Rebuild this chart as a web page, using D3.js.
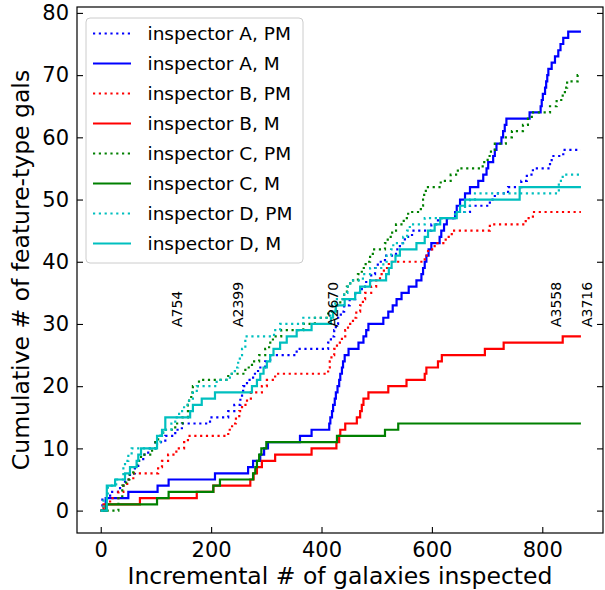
<!DOCTYPE html>
<html>
<head>
<meta charset="utf-8">
<script src="https://cdn.jsdelivr.net/npm/d3@7/dist/d3.min.js"></script>
<style>
  html, body { margin: 0; padding: 0; background: #fff; }
  svg { display: block; font-family: "DejaVu Sans", sans-serif; }
</style>
</head>
<body>
<svg id="chart" width="605" height="590"></svg>
<script>
// Cumulative count of feature-type galaxies versus number of galaxies inspected.
// Each series: [galaxies inspected, cumulative count] at every step change.
const inspA_PM = [[0,0],[3,2],[17,3],[35,4],[44,5],[53,6],[62,7],[68,8],[77,9],[86,10],[99,11],[117,12],[135,13],[147,14],[198,15],[231,16],[242,17],[253,18],[256,19],[258,20],[265,21],[276,22],[285,23],[298,24],[307,25],[355,26],[412,27],[417,28],[423,29],[426,30],[430,31],[435,32],[441,33],[451,34],[461,35],[473,36],[481,37],[490,38],[497,39],[502,40],[515,41],[535,42],[542,43],[551,44],[564,45],[599,46],[611,47],[642,48],[669,49],[705,50],[714,51],[738,52],[762,53],[772,54],[783,55],[814,56],[817,57],[838,58]];
const inspA_M = [[0,0],[9,2],[50,3],[103,4],[123,5],[207,6],[267,7],[276,8],[289,9],[296,10],[303,11],[361,12],[382,13],[414,14],[416,15],[419,16],[421,17],[424,18],[426,19],[429,20],[432,21],[434,22],[437,23],[439,24],[442,25],[449,26],[467,27],[476,28],[481,29],[485,30],[512,31],[521,32],[529,33],[536,34],[545,35],[558,36],[572,37],[581,38],[584,39],[587,40],[590,41],[594,42],[599,43],[614,44],[617,45],[622,46],[627,47],[642,48],[645,49],[651,50],[660,51],[669,52],[684,53],[693,54],[699,55],[702,56],[711,57],[714,58],[717,59],[726,60],[729,61],[732,62],[735,63],[777,64],[797,65],[799,66],[801,67],[805,68],[807,69],[809,70],[811,71],[817,72],[823,73],[829,74],[833,75],[838,76],[847,77]];
const inspB_PM = [[0,0],[5,1],[17,2],[32,3],[41,4],[48,5],[59,6],[104,7],[111,8],[122,9],[137,10],[151,11],[158,12],[231,13],[238,14],[245,15],[251,16],[256,17],[265,18],[272,19],[292,20],[301,21],[316,22],[412,23],[415,24],[418,25],[423,26],[428,27],[437,28],[443,29],[448,30],[457,31],[463,32],[470,33],[475,34],[479,35],[490,36],[499,37],[506,38],[513,39],[522,40],[587,41],[593,42],[605,43],[625,44],[636,45],[705,46],[770,47],[783,48]];
const inspB_M = [[0,0],[5,1],[71,2],[174,3],[204,4],[271,5],[277,6],[283,7],[292,8],[316,9],[382,10],[427,11],[432,12],[434,13],[443,14],[464,15],[470,16],[473,17],[476,18],[485,19],[521,20],[554,21],[587,22],[590,23],[611,24],[618,25],[696,26],[730,27],[837,28]];
const inspC_PM = [[0,0],[32,2],[39,4],[46,5],[52,6],[59,7],[66,8],[73,9],[93,10],[99,11],[104,12],[113,13],[135,14],[148,15],[158,17],[160,18],[164,19],[167,20],[178,21],[231,22],[262,23],[274,24],[287,25],[298,26],[305,27],[312,28],[327,29],[367,30],[388,31],[412,32],[426,33],[434,34],[441,35],[446,36],[452,37],[466,38],[473,39],[480,40],[488,41],[493,42],[515,43],[520,44],[528,45],[535,46],[549,47],[557,48],[580,49],[584,50],[586,51],[589,52],[616,53],[634,54],[647,55],[692,56],[701,57],[707,58],[714,59],[734,60],[745,61],[765,62],[774,63],[781,64],[814,65],[826,66],[837,67],[841,68],[845,69],[864,70]];
const inspC_M = [[0,0],[10,1],[102,2],[123,3],[204,4],[216,5],[276,6],[280,7],[283,8],[287,9],[291,10],[300,11],[428,12],[515,13],[539,14]];
const inspD_PM = [[0,0],[5,2],[13,4],[28,5],[41,7],[44,8],[50,9],[56,10],[102,11],[108,12],[113,13],[128,14],[135,15],[142,16],[151,17],[160,18],[167,19],[174,20],[210,21],[234,22],[243,23],[249,24],[252,25],[256,26],[262,28],[314,29],[325,30],[367,31],[416,32],[419,33],[425,34],[441,35],[447,36],[452,37],[475,38],[488,39],[512,40],[518,41],[526,42],[530,43],[548,44],[555,45],[560,46],[587,47],[642,48],[660,49],[669,50],[678,51],[830,53],[837,54]];
const inspD_M = [[0,0],[11,4],[26,5],[44,6],[53,7],[65,8],[68,9],[73,10],[102,12],[111,13],[117,15],[162,16],[167,17],[183,18],[207,19],[274,20],[283,21],[289,22],[295,23],[301,24],[307,25],[313,26],[325,27],[337,28],[355,29],[382,30],[417,31],[421,32],[426,33],[442,34],[461,35],[470,36],[488,37],[517,38],[522,39],[527,40],[534,41],[542,42],[572,43],[587,44],[593,45],[605,46],[615,47],[645,48],[651,49],[660,50],[759,52]];

const totalInspected = 870;

const seriesNames = ["inspector A, PM", "inspector A, M", "inspector B, PM", "inspector B, M",
                     "inspector C, PM", "inspector C, M", "inspector D, PM", "inspector D, M"];
const seriesData = [inspA_PM, inspA_M, inspB_PM, inspB_M, inspC_PM, inspC_M, inspD_PM, inspD_M];
const seriesColors = ["#0000ff", "#0000ff", "#ff0000", "#ff0000", "#008000", "#008000", "#00bfbf", "#00bfbf"];
const seriesDotted = [true, false, true, false, true, false, true, false];

// Cluster boundaries along the inspection sequence
const clusterNames = ["A754", "A2399", "A2670", "A3558", "A3716"];
const clusterStart = [124, 235, 407, 810, 866];
const clusterLabelLevel = 29.5;

const xTicks = [0, 200, 400, 600, 800];
const yTicks = [0, 10, 20, 30, 40, 50, 60, 70, 80];

const svg = d3.select("#chart");
const plotL = 77, plotR = 603, plotT = 7, plotB = 533;

const x = d3.scaleLinear().domain([-43, 910]).range([plotL, plotR]);
const y = d3.scaleLinear().domain([-3.6, 80.95]).range([plotB, plotT]);

const tickFont = 21;
const labelFont = 23.5;

// Axes with inward ticks
const gLeft = svg.append("g").attr("transform", `translate(${plotL},0)`)
  .call(d3.axisLeft(y).tickValues(yTicks).tickSize(-6).tickPadding(8).tickFormat(d3.format("d")));
const gRight = svg.append("g").attr("transform", `translate(${plotR},0)`)
  .call(d3.axisRight(y).tickValues(yTicks).tickSize(-6).tickFormat(""));
const gBottom = svg.append("g").attr("transform", `translate(0,${plotB})`)
  .call(d3.axisBottom(x).tickValues(xTicks).tickSize(-6).tickPadding(9).tickFormat(d3.format("d")));

[gLeft, gRight, gBottom].forEach(g => {
  g.select(".domain").remove();
  g.selectAll(".tick line").attr("stroke", "#000").attr("stroke-width", 1.1);
  g.selectAll("text").attr("font-size", tickFont).attr("font-family", "DejaVu Sans").attr("fill", "#000");
});

// Frame
svg.append("rect")
  .attr("x", plotL).attr("y", plotT).attr("width", plotR - plotL).attr("height", plotB - plotT)
  .attr("fill", "none").attr("stroke", "#000").attr("stroke-width", 1.2);

// Step lines
const line = d3.line()
  .x(d => x(d[0]))
  .y(d => y(d[1]))
  .curve(d3.curveStepAfter);

seriesData.forEach((data, i) => {
  const pts = data.concat([[totalInspected, data[data.length - 1][1]]]);
  svg.append("path")
    .datum(pts)
    .attr("d", line)
    .attr("fill", "none")
    .attr("stroke", seriesColors[i])
    .attr("stroke-width", 2.2)
    .attr("stroke-dasharray", seriesDotted[i] ? "2.2,3.6" : null);
});

// Cluster labels
clusterNames.forEach((name, i) => {
  const px = x(clusterStart[i]), py = y(clusterLabelLevel);
  svg.append("text")
    .attr("transform", `translate(${px},${py}) rotate(-90)`)
    .attr("dominant-baseline", "text-before-edge")
    .attr("font-size", 14)
    .attr("fill", "#000")
    .text(name);
});

// Axis titles
svg.append("text")
  .attr("x", (plotL + plotR) / 2).attr("y", 584)
  .attr("text-anchor", "middle")
  .attr("font-size", labelFont)
  .text("Incremental # of galaxies inspected");

svg.append("text")
  .attr("transform", `translate(29,${(plotT + plotB) / 2}) rotate(-90)`)
  .attr("text-anchor", "middle")
  .attr("font-size", labelFont)
  .text("Cumulative # of feature-type gals");

// Legend
const lg = svg.append("g");
lg.append("rect")
  .attr("x", 86).attr("y", 18).attr("width", 217).attr("height", 245)
  .attr("rx", 4).attr("ry", 4)
  .attr("fill", "#fff").attr("fill-opacity", 0.8)
  .attr("stroke", "#cccccc").attr("stroke-width", 1);

seriesNames.forEach((name, i) => {
  const cy = 33.5 + i * 30;
  lg.append("line")
    .attr("x1", 93).attr("x2", 131).attr("y1", cy).attr("y2", cy)
    .attr("stroke", seriesColors[i]).attr("stroke-width", 2.2)
    .attr("stroke-dasharray", seriesDotted[i] ? "2.2,3.6" : null);
  lg.append("text")
    .attr("x", 147.5).attr("y", cy)
    .attr("dominant-baseline", "central")
    .attr("font-size", 18.5)
    .text(name);
});
</script>
</body>
</html>
